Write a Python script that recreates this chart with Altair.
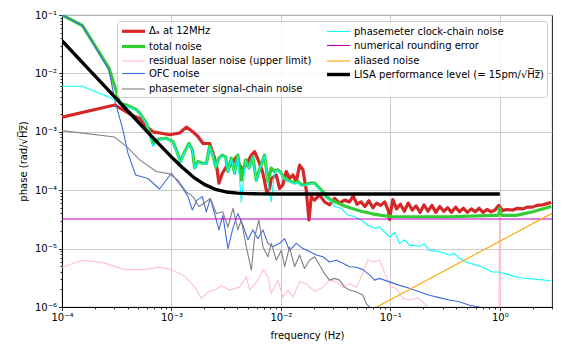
import altair as alt
import pandas as pd

# ---- data (log10 of frequency [Hz] and log10 of phase [rad/sqrt(Hz)]) ----
red_logf = [-4.0, -3.519, -3.366, -3.290, -3.229, -3.169, -3.108, -3.016, -2.925, -2.864, -2.804, -2.758,
            -2.712, -2.651, -2.606, -2.585, -2.566, -2.535, -2.499, -2.453, -2.407, -2.377, -2.347, -2.311,
            -2.270, -2.240, -2.201, -2.164, -2.128, -2.103, -2.088, -2.042, -2.012, -1.982, -1.951, -1.921,
            -1.890, -1.859, -1.829, -1.799, -1.768, -1.744, -1.722, -1.692, -1.647, -1.601, -1.555, -1.509,
            -1.464, -1.418, -1.373,
            -1.340, -1.304, -1.268, -1.232, -1.196, -1.160, -1.124, -1.088, -1.052, -1.016, -1.008, -0.990,
            -0.977, -0.944, -0.908, -0.872, -0.836, -0.800, -0.764, -0.728, -0.692, -0.656, -0.620, -0.584,
            -0.548, -0.512, -0.476, -0.440, -0.404, -0.368, -0.332, -0.296, -0.260, -0.224, -0.188, -0.152,
            -0.116, -0.080, -0.044, -0.009, 0.027, 0.060, 0.119, 0.160, 0.210, 0.250, 0.301, 0.340, 0.393,
            0.430, 0.469]
red_logy = [-2.75, -2.54, -2.71, -2.77, -2.91, -3.00, -3.02, -3.05, -3.02, -2.92, -3.00, -3.08,
            -3.20, -3.20, -3.45, -3.62, -3.88, -3.71, -3.60, -3.57, -3.43, -3.57, -3.65, -3.54,
            -3.40, -3.34, -3.51, -3.71, -4.05, -3.97, -3.80, -3.74, -3.97, -3.91, -3.68, -3.80,
            -3.74, -3.85, -3.57, -3.65, -4.00, -4.51, -4.11, -4.17, -4.08, -4.20, -4.25, -4.14,
            -4.22, -4.17, -4.20,
            -4.10, -4.24, -4.20, -4.28, -4.18, -4.30, -4.22, -4.26, -4.20, -4.36, -4.50, -4.30,
            -4.16, -4.32, -4.24, -4.36, -4.22, -4.34, -4.27, -4.38, -4.25, -4.36, -4.26, -4.38,
            -4.28, -4.36, -4.30, -4.38, -4.29, -4.37, -4.31, -4.38, -4.32, -4.37, -4.31, -4.38,
            -4.33, -4.37, -4.34, -4.26, -4.35, -4.33, -4.34, -4.31, -4.32, -4.29, -4.29, -4.26, -4.25,
            -4.23, -4.21]

green_logf = [-4.0, -3.814, -3.571, -3.503, -3.473, -3.412, -3.321, -3.290, -3.229, -3.169, -3.123, -3.047,
              -2.986, -2.950, -2.919, -2.879, -2.840, -2.809, -2.788, -2.758, -2.718, -2.681, -2.651, -2.621,
              -2.596, -2.566, -2.535, -2.505, -2.484, -2.453, -2.423, -2.393, -2.362, -2.322, -2.292, -2.256,
              -2.225, -2.188, -2.149, -2.119, -2.088, -2.058, -2.027, -1.996, -1.966, -1.936, -1.905, -1.875,
              -1.845, -1.814, -1.784, -1.738, -1.692, -1.662, -1.616, -1.585, -1.540, -1.479, -1.418, -1.357,
              -1.266, -1.174, -1.083, -0.992, -0.75, -0.460, -0.186, -0.05, -0.01, 0.0, 0.01, 0.150, 0.301, 0.469]
green_logy = [-1.0, -1.18, -1.91, -2.31, -2.51, -2.54, -2.62, -2.68, -2.85, -3.20, -3.13, -3.11,
              -3.17, -3.34, -3.51, -3.34, -3.20, -3.31, -3.62, -3.51, -3.54, -3.54, -3.25, -3.40,
              -3.60, -3.45, -3.40, -3.43, -3.68, -3.45, -3.71, -3.40, -3.83, -3.48, -3.62, -3.43,
              -3.83, -3.60, -3.40, -3.85, -3.62, -3.68, -3.65, -3.71, -3.80, -3.83, -3.85, -3.88,
              -3.85, -3.91, -3.91, -3.88, -3.88, -3.94, -4.03, -4.11, -4.17, -4.22, -4.27, -4.31,
              -4.36, -4.40, -4.43, -4.45, -4.455, -4.455, -4.44, -4.43, -4.43, -4.31, -4.43, -4.43, -4.37, -4.28]

cyan_logf = [-4.0, -3.814, -3.571, -3.519, -3.443, -3.412, -3.321, -3.290, -3.229, -3.169, -3.123, -3.047,
             -2.986, -2.950, -2.919, -2.879, -2.840, -2.809, -2.788, -2.758, -2.718, -2.681, -2.651, -2.621,
             -2.596, -2.566, -2.535, -2.505, -2.484, -2.453, -2.423, -2.393, -2.362, -2.322, -2.292, -2.256,
             -2.225, -2.188, -2.149, -2.119, -2.088, -2.058, -2.027, -1.996, -1.966, -1.936, -1.905, -1.875,
             -1.845, -1.814, -1.784, -1.738, -1.692, -1.662, -1.601, -1.540, -1.509, -1.448, -1.388, -1.327,
             -1.266, -1.205, -1.144, -1.099, -1.008, -0.960, -0.916, -0.870, -0.825, -0.735, -0.690, -0.643,
             -0.553, -0.461, -0.420, -0.370, -0.307, -0.186, -0.067, -0.006, 0.088, 0.180, 0.299, 0.469]
cyan_logy = [-2.22, -2.22, -2.41, -2.45, -2.55, -2.56, -2.63, -2.69, -2.86, -3.25, -3.14, -3.12,
             -3.18, -3.35, -3.52, -3.35, -3.21, -3.32, -3.63, -3.52, -3.55, -3.55, -3.26, -3.41,
             -3.61, -3.46, -3.41, -3.44, -3.69, -3.46, -3.72, -3.41, -4.20, -3.49, -3.63, -3.44,
             -3.84, -3.61, -3.41, -3.86, -4.20, -3.69, -3.66, -3.72, -3.81, -3.84, -3.86, -3.89,
             -3.86, -3.92, -3.92, -3.89, -3.89, -3.95, -4.11, -4.20, -4.28, -4.31, -4.43, -4.45,
             -4.51, -4.60, -4.65, -4.63, -4.80, -4.72, -4.91, -4.85, -4.94, -4.96, -4.92, -5.03,
             -5.05, -5.11, -5.08, -5.16, -5.23, -5.30, -5.40, -5.40, -5.45, -5.50, -5.52, -5.55]

blue_logf = [-4.0, -3.814, -3.571, -3.519, -3.443, -3.397, -3.327, -3.215, -3.108, -3.001, -2.895, -2.849,
             -2.809, -2.767, -2.718, -2.681, -2.645, -2.606, -2.566, -2.530, -2.484, -2.438, -2.393, -2.347,
             -2.301, -2.256, -2.210, -2.164, -2.119, -2.073, -2.012, -1.966, -1.921, -1.859, -1.799, -1.738,
             -1.677, -1.616, -1.555, -1.494, -1.434, -1.373, -1.311, -1.251, -1.190, -1.144, -1.099, -1.008,
             -0.916, -0.825, -0.735, -0.643, -0.553, -0.461, -0.370, -0.277, -0.186, -0.1, 0.0, 0.477]
blue_logy = [-1.0, -1.18, -1.94, -2.45, -2.97, -3.37, -3.74, -3.80, -3.98, -3.71, -3.97, -4.11,
             -4.34, -4.17, -4.11, -4.37, -4.14, -4.40, -4.68, -4.43, -5.00, -4.65, -4.40, -4.60,
             -4.85, -4.68, -4.83, -4.68, -4.91, -4.97, -4.91, -4.83, -5.03, -4.91, -5.00, -5.05,
             -5.11, -5.14, -5.23, -5.20, -5.25, -5.31, -5.32, -5.36, -5.45, -5.54, -5.51, -5.57,
             -5.63, -5.68, -5.74, -5.80, -5.84, -5.88, -5.91, -5.97, -6.00, -6.1, -6.2, -6.5]

gray_logf = [-4.0, -3.519, -3.412, -3.290, -3.138, -3.016, -2.941, -2.864, -2.804, -2.749, -2.697, -2.645,
             -2.590, -2.530, -2.484, -2.438, -2.393, -2.362, -2.316, -2.270, -2.240, -2.201, -2.164, -2.119,
             -2.088, -2.042, -1.996, -1.966, -1.921, -1.875, -1.829, -1.784, -1.738, -1.692, -1.647, -1.601,
             -1.555, -1.509, -1.464, -1.418, -1.373, -1.311, -1.251, -1.220, -1.190, -1.1, 0.477]
gray_logy = [-2.98, -3.09, -3.25, -3.48, -3.68, -3.72, -3.83, -4.03, -4.11, -4.28, -4.22, -4.14,
             -4.40, -4.37, -4.63, -4.31, -4.68, -4.51, -4.97, -5.37, -4.80, -4.51, -4.97, -5.14,
             -4.91, -5.20, -5.03, -5.31, -4.97, -5.31, -5.11, -5.34, -5.20, -5.14, -5.28, -5.43,
             -5.54, -5.51, -5.54, -5.66, -5.71, -5.74, -5.80, -5.94, -6.00, -6.2, -7.0]

pink_logf = [-4.0, -3.814, -3.626, -3.427, -3.245, -3.108, -3.0, -2.878, -2.787, -2.727, -2.667, -2.606,
             -2.544, -2.469, -2.377, -2.316, -2.286, -2.210, -2.164, -2.119, -2.088, -2.027, -1.982, -1.936,
             -1.890, -1.829, -1.768, -1.692, -1.616, -1.555, -1.494, -1.434, -1.373, -1.311, -1.251, -1.205,
             -1.160, -1.099, -1.037, -0.992, -0.946, -0.886, -0.825, -0.749, -0.672, -0.627, -0.55, -0.008,
             -0.003, 0.003, 0.008, 0.477]
pink_logy = [-5.32, -5.20, -5.24, -5.36, -5.36, -5.32, -5.36, -5.47, -5.66, -5.85, -5.74, -5.71,
             -5.64, -5.71, -5.66, -5.48, -5.71, -5.54, -5.36, -5.48, -5.77, -5.54, -5.83, -5.71,
             -5.83, -5.57, -5.60, -5.74, -5.66, -5.54, -5.57, -5.66, -5.60, -5.66, -5.43, -5.19,
             -5.23, -5.20, -5.48, -5.66, -5.68, -5.85, -5.88, -5.84, -5.97, -6.09, -6.4, -6.5,
             -4.44, -4.44, -6.5, -6.5]

magenta_logf = [-4.0, 0.477]
magenta_logy = [-4.494, -4.494]

orange_logf = [-1.3, 0.477]
orange_logy = [-6.175, -4.396]

black_logf = [-4.0, -3.8, -3.6, -3.4, -3.2, -3.1, -3.0, -2.9, -2.8, -2.7, -2.6, -2.5, -2.4, -2.3, -2.2, -2.0, 0.0]
black_logy = [-1.44, -1.84, -2.24, -2.64, -3.04, -3.236, -3.43, -3.61, -3.775, -3.90, -3.985, -4.03, -4.05,
              -4.059, -4.063, -4.065, -4.065]

# series names, colours and line widths (legend order = drawing order)
names = [
    "Δₐ at 12MHz",
    "total noise",
    "residual laser noise (upper limit)",
    "OFC noise",
    "phasemeter signal-chain noise",
    "phasemeter clock-chain noise",
    "numerical rounding error",
    "aliased noise",
    "LISA performance level (= 15pm/√H̅z̅)",
]
colors = ["#d62728", "#32cd32", "#ffc0cb", "#4169e1", "#808080", "#00ffff", "#bf00bf", "#ffa500", "#000000"]
widths = [3.2, 3.2, 1.1, 1.1, 1.1, 1.1, 1.1, 1.1, 3.4]
curves = [(red_logf, red_logy), (green_logf, green_logy), (pink_logf, pink_logy), (blue_logf, blue_logy),
          (gray_logf, gray_logy), (cyan_logf, cyan_logy), (magenta_logf, magenta_logy),
          (orange_logf, orange_logy), (black_logf, black_logy)]

frames = []
for name, (lf, ly) in zip(names, curves):
    d = pd.DataFrame({"lf": lf, "ly": ly})
    d["f"] = 10.0 ** d["lf"]
    d["p"] = 10.0 ** d["ly"]
    d["series"] = name
    frames.append(d)
df = pd.concat(frames, ignore_index=True)

xticks = [m * 10.0 ** e for e in range(-4, 1) for m in range(1, 10)] + [2.0, 3.0]
yticks = [m * 10.0 ** e for e in range(-6, -1) for m in range(1, 10)] + [0.1]

E = "round(log(datum.value)/LN10)"
MAJOR = f"abs(log(datum.value)/LN10 - {E}) < 0.01"
sup = {0: "⁰", -1: "⁻¹", -2: "⁻²", -3: "⁻³", -4: "⁻⁴", -5: "⁻⁵", -6: "⁻⁶"}
inner = "''"
for e, s in sup.items():
    inner = f"({E} == {e} ? '10{s}' : {inner})"
label_expr = f"{MAJOR} ? {inner} : ''"

FONT = "DejaVu Sans"


def make_axis(vals, title, **kw):
    return alt.Axis(
        values=vals, labelExpr=label_expr, title=title,
        tickSize={"condition": {"test": MAJOR, "value": 3.5}, "value": 2},
        gridOpacity={"condition": {"test": MAJOR, "value": 1}, "value": 0},
        gridColor="#c4c4c4", gridWidth=0.9,
        tickColor="black", domainColor="black", tickWidth=0.8,
        labelFont=FONT, labelFontSize=10, labelColor="black",
        titleFont=FONT, titleFontSize=10, titleFontWeight="normal", titleColor="black",
        labelFlush=False, labelOverlap=False, labelPadding=2, **kw,
    )


def make_legend():
    return alt.Legend(
        title=None, orient="none", legendX=55, legendY=6, columns=2, direction="vertical",
        symbolType="M-1,0H3.6", symbolSize=100, labelFont=FONT, labelFontSize=10,
        labelColor="black", labelLimit=400, labelOffset=15, fillColor="rgba(255,255,255,0.8)",
        strokeColor="#cccccc", padding=3, cornerRadius=3, columnPadding=8, rowPadding=1.5,
        symbolFillColor="transparent",
    )


color = alt.Color("series:N", scale=alt.Scale(domain=names, range=colors), legend=make_legend())
swidth = alt.StrokeWidth("series:N", scale=alt.Scale(type="ordinal", domain=names, range=widths),
                         legend=make_legend())

x = alt.X("f:Q", scale=alt.Scale(type="log", domain=[1e-4, 3], nice=False),
          axis=make_axis(xticks, "frequency (Hz)", titlePadding=8))
y = alt.Y("p:Q", scale=alt.Scale(type="log", domain=[1e-6, 1e-1], nice=False),
          axis=make_axis(yticks, "phase (rad/√H̅z̅)", titlePadding=6))

layers = []
for name in names:
    layers.append(
        alt.Chart(df)
        .transform_filter(alt.datum.series == name)
        .mark_line(clip=True, strokeJoin="round")
        .encode(x=x, y=y, color=color, strokeWidth=swidth)
    )

chart = (
    alt.layer(*layers)
    .properties(
        width=490, height=292,
        autosize=alt.AutoSizeParams(type="none"),
        padding={"left": 54, "top": 7, "right": 2, "bottom": 37},
        background="white",
    )
    .configure_view(stroke="black", strokeWidth=0.9)
)

chart.save("out.html", embed_options={"renderer": "svg", "actions": False})
